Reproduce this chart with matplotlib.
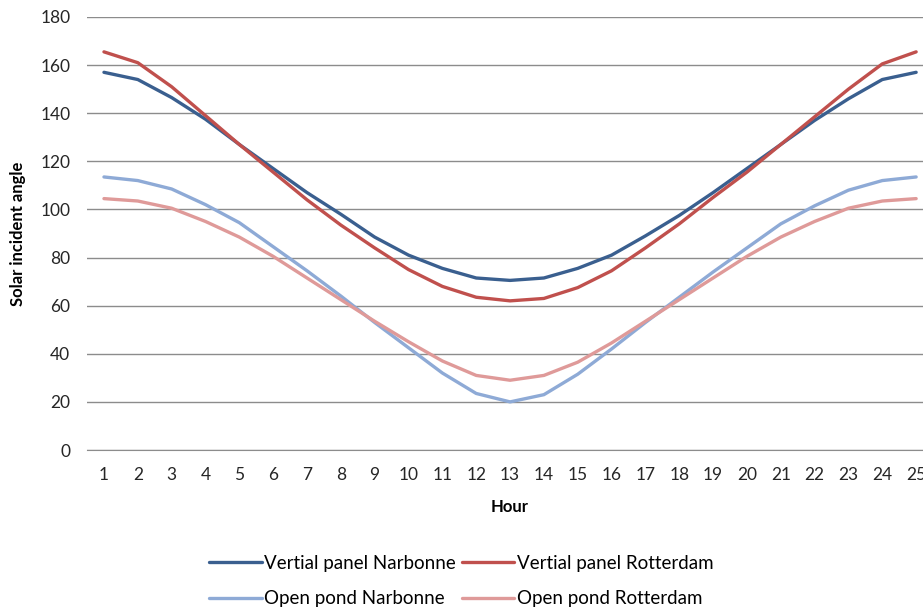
import numpy as np
import matplotlib.pyplot as plt

plt.rcParams['font.family'] = ['Lato', 'DejaVu Sans']

hours = list(range(1, 26))

# solar incident angle per hour, degrees
vertical_narbonne = [157, 154, 146.5, 137.5, 127, 117, 107, 98, 88.5, 81, 75.5, 71.5, 70.5,
                     71.5, 75.5, 81, 89, 97.5, 107, 117, 127, 137, 146, 154, 157]
vertical_rotterdam = [165.5, 161, 151, 139, 127, 115.5, 104, 93.5, 84, 75, 68, 63.5, 62,
                      63, 67.5, 74.5, 84, 94, 105, 115.5, 127, 138.5, 150, 160.5, 165.5]
pond_narbonne = [113.5, 112, 108.5, 102, 94.5, 84.5, 74.5, 64, 53, 42.5, 32, 23.5, 20,
                 23, 31.5, 42, 53, 63.5, 74, 84, 94, 101.5, 108, 112, 113.5]
pond_rotterdam = [104.5, 103.5, 100.5, 95, 88.5, 80.5, 71.5, 62.5, 53.5, 45, 37, 31, 29,
                  31, 36.5, 44.5, 53.5, 62.5, 71.5, 80.5, 88.5, 95, 100.5, 103.5, 104.5]

series = [
    ("Vertial panel Narbonne", vertical_narbonne, "#3a5f8f"),
    ("Vertial panel Rotterdam", vertical_rotterdam, "#c0504d"),
    ("Open pond Narbonne", pond_narbonne, "#8eaad6"),
    ("Open pond Rotterdam", pond_rotterdam, "#df9a99"),
]

fig = plt.figure(figsize=(9.23, 6.13), dpi=100)
ax = fig.add_axes([0.0943, 0.2659, 0.9166, 0.7064])

lines = {}
for name, vals, col in series:
    lines[name], = ax.plot(hours, vals, color=col, linewidth=2.4, label=name,
                           solid_capstyle='round')

ax.set_xlim(0.5, 25.5)
ax.set_ylim(0, 180)
ax.set_yticks(np.arange(0, 181, 20))
ax.set_xticks(hours)
ax.yaxis.grid(True, color="#8c8c8c", linewidth=1)
ax.set_axisbelow(True)
for s in ["top", "right", "left"]:
    ax.spines[s].set_visible(False)
ax.spines["bottom"].set_color("#8c8c8c")
ax.tick_params(axis="both", length=0, labelsize=12.5, colors="#262626")
ax.tick_params(axis="y", pad=12)
ax.tick_params(axis="x", pad=12)

ax.set_ylabel("Solar incident angle", fontsize=12, fontweight="bold", labelpad=10)
ax.set_xlabel("Hour", fontsize=12, fontweight="bold", labelpad=12)

# legend is filled column by column, so order handles to read row by row
order = ["Vertial panel Narbonne", "Open pond Narbonne",
         "Vertial panel Rotterdam", "Open pond Rotterdam"]
fig.legend([lines[n] for n in order], order, loc="center",
           bbox_to_anchor=(0.5, 0.052), ncol=2, frameon=False,
           fontsize=13.5, handlelength=2.8, handletextpad=0.15, columnspacing=0.3,
           labelspacing=1.0)

fig.savefig("out.png", dpi=100)
